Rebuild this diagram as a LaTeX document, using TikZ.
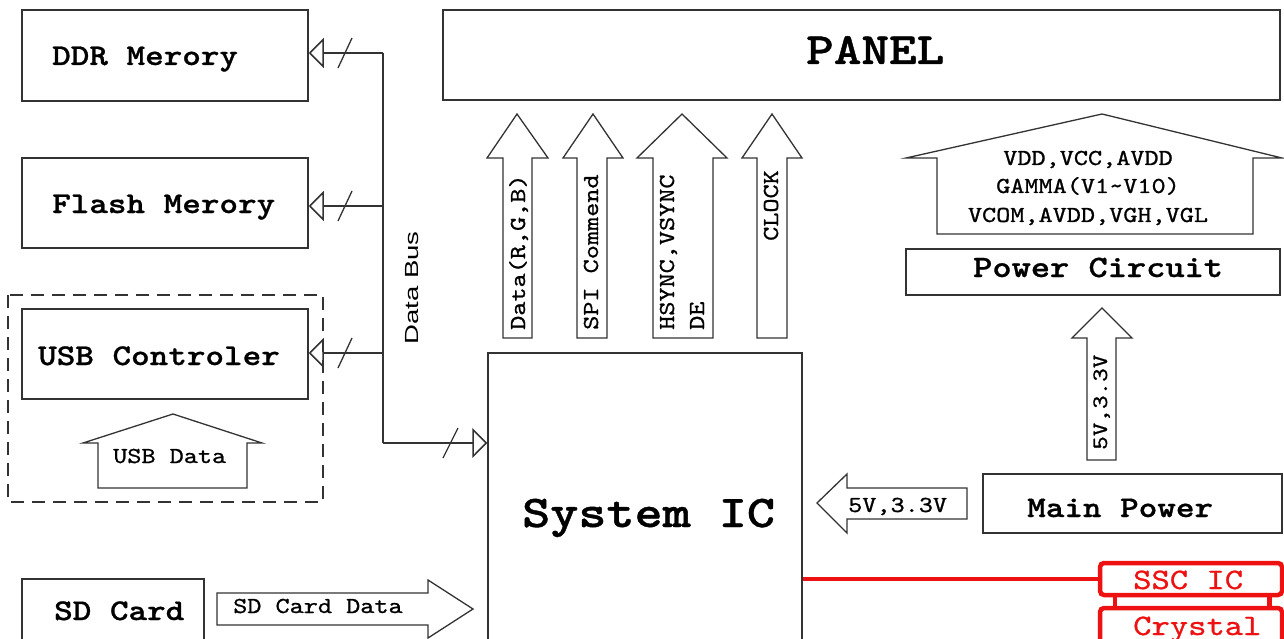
\documentclass[tikz,border=0pt]{standalone}
\usepackage{fontspec}
\usepackage{graphicx}
\setsansfont{Liberation Sans}
\newfontfamily\smono[FakeBold=0.8]{lmmono10-regular.otf}
\newfontfamily\bmono[FakeBold=0.8]{lmmonolt10-bold.otf}
\usetikzlibrary{arrows.meta}
\definecolor{lc}{HTML}{333333}
\definecolor{rc}{HTML}{EE1111}
\newcommand\fsz[1]{\fontsize{#1}{#1}\selectfont}
\newcommand\cw[1]{\scalebox{1}[0.85]{#1}}
\begin{document}
\begin{tikzpicture}[x=1pt,y=-1pt,
  box/.style={draw=lc,line width=1.5pt,inner sep=0pt},
  lbl/.style={font=\bmono\fsz{35.4},inner sep=0pt,anchor=base west},
  sml/.style={font=\smono\fsz{26.9},inner sep=0pt,anchor=base west},
  blk/.style={draw=lc,line width=1.3pt,fill=white},
  bus/.style={draw=lc,line width=1.5pt,-{Triangle[open,length=15pt,width=30pt,line width=1.5pt]}},
  busline/.style={draw=lc,line width=1.5pt},
  slash/.style={draw=lc,line width=1.3pt},
  redbox/.style={draw=rc,line width=4.5pt,rounded corners=4pt,inner sep=0pt},
  redtxt/.style={font=\smono\fsz{34.9},text=rc,inner sep=0pt,anchor=base west}]
\useasboundingbox (0,0) rectangle (1284,639);
\clip (0,0) rectangle (1284,639);
\fill[white] (0,0) rectangle (1284,639);

% memory boxes
\node[box,minimum width=286pt,minimum height=91pt] (ddr) at (165,55.5) {};
\node[lbl] (ddrt) at (52,65) {\cw{DDR Merory}};
\node[box,minimum width=286pt,minimum height=90pt] (flash) at (165,203) {};
\node[lbl] (flasht) at (52,213) {\cw{Flash Merory}};
\node[box,minimum width=286pt,minimum height=90pt] (usb) at (165,354) {};
\node[lbl] (usbt) at (38,365) {\cw{USB Controler}};
\draw[lc,line width=1.5pt,dash pattern=on 13pt off 8pt] (8,295) rectangle (323,502);

% USB data arrow
\draw[blk] (98,488) -- (98,443) -- (83,443) -- (173,414) -- (262,443) -- (247,443) -- (247,488) -- cycle;
\node[sml] (usbd) at (113,463) {\cw{USB Data}};

% SD card
\node[box,minimum width=182pt,minimum height=81pt] (sd) at (113,619.5) {};
\node[lbl] (sdt) at (54,620) {\cw{SD Card}};
\draw[blk] (217,593) -- (428,593) -- (428,580) -- (473,609) -- (428,638) -- (428,625) -- (217,625) -- cycle;
\node[sml] (sdd) at (233,613) {\cw{SD Card Data}};

% panel
\node[box,minimum width=837pt,minimum height=90pt] (panel) at (861.5,55) {};
\node[font=\bmono\fsz{52.6},inner sep=0pt,anchor=base west] (panelt) at (806,64) {\cw{PANEL}};

% system IC
\node[box,minimum width=314pt,minimum height=307pt] (sys) at (645,506.5) {};
\node[font=\bmono\fsz{53.5},inner sep=0pt,anchor=base west] (syst) at (522,527) {\cw{System IC}};

% bus
\coordinate (j1) at (383,53);
\coordinate (j2) at (383,206);
\coordinate (j3) at (383,353);
\coordinate (j4) at (383,443);
\draw[busline] (j1) -- (j4);
\draw[bus] (j1) -- (j1 -| ddr.east);
\draw[bus] (j2) -- (j2 -| flash.east);
\draw[bus] (j3) -- (j3 -| usb.east);
\draw[bus] (j4) -- (j4 -| sys.west);
\draw[slash] ([shift={(-45,15)}]j1) -- ([shift={(-31,-15)}]j1);
\draw[slash] ([shift={(-45,15)}]j2) -- ([shift={(-31,-15)}]j2);
\draw[slash] ([shift={(-45,15)}]j3) -- ([shift={(-31,-15)}]j3);
\draw[slash] ([shift={(60,15)}]j4) -- ([shift={(75,-15)}]j4);
\node[font=\sffamily\fsz{19},rotate=90,anchor=base west,inner sep=0pt] (dbus) at (418,345) {\scalebox{1.45}[1]{Data Bus}};

% up arrows to panel
\draw[blk] (503,338) -- (503,158) -- (487,158) -- (517,114) -- (548,158) -- (532,158) -- (532,338) -- cycle;
\draw[blk] (577,338) -- (577,158) -- (563,158) -- (593,114) -- (623,158) -- (607,158) -- (607,338) -- cycle;
\draw[blk] (653,338) -- (653,158) -- (637,158) -- (682,114) -- (727,158) -- (713,158) -- (713,338) -- cycle;
\draw[blk] (757,338) -- (757,158) -- (742,158) -- (772,114) -- (802,158) -- (787,158) -- (787,338) -- cycle;
\node[sml,rotate=90] (a1) at (525,330) {\cw{Data(R,G,B)}};
\node[sml,rotate=90] (a2) at (598,330) {\cw{SPI Commend}};
\node[sml,rotate=90] (a3) at (674,330) {\cw{HSYNC,VSYNC}};
\node[sml,rotate=90] (a4) at (704,330) {\cw{DE}};
\node[sml,rotate=90,anchor=base east] (a5) at (778,170) {\cw{CLOCK}};

% power
\draw[blk] (937,234) -- (937,158) -- (906,158) -- (1102,114) -- (1282,158) -- (1253,158) -- (1253,234) -- cycle;
\node[sml,anchor=base] (p1) at (1088,165) {\cw{VDD,VCC,AVDD}};
\node[sml,anchor=base] (p2) at (1088,193) {\cw{GAMMA(V1\char`\~V10)}};
\node[sml,anchor=base] (p3) at (1088,222) {\cw{VCOM,AVDD,VGH,VGL}};
\node[box,minimum width=374pt,minimum height=46pt] (pc) at (1093,272) {};
\node[lbl,font=\bmono\fsz{36.6}] (pct) at (973,277) {\cw{Power Circuit}};

\draw[blk] (1087,460) -- (1087,338) -- (1072,338) -- (1102,308) -- (1132,338) -- (1116,338) -- (1116,460) -- cycle;
\node[sml,rotate=90,font=\smono\fsz{25.9}] (v1) at (1107,450) {\cw{5V,3.3V}};

\node[box,minimum width=299pt,minimum height=59pt] (mp) at (1132.5,503.5) {};
\node[lbl] (mpt) at (1027,517) {\cw{Main Power}};
\draw[blk] (967,488) -- (847,488) -- (847,474) -- (817,503) -- (847,533) -- (847,519) -- (967,519) -- cycle;
\node[sml] (v2) at (848,512) {\cw{5V,3.3V}};

% SSC / crystal
\node[redbox,minimum width=182pt,minimum height=32pt] (ssc) at (1191,579) {};
\node[redtxt] (ssct) at (1133,589) {\cw{SSC IC}};
\node[redbox,minimum width=182pt,minimum height=52pt] (crys) at (1191,634) {};
\node[redtxt] (cryst) at (1133,635) {\cw{Crystal}};
\draw[rc,line width=4.5pt] ([xshift=17pt]ssc.south west) -- ([xshift=17pt]crys.north west);
\draw[rc,line width=4.5pt] ([xshift=-15pt]ssc.south east) -- ([xshift=-15pt]crys.north east);
\draw[rc,line width=4.5pt] (sys.east |- ssc.west) -- (ssc.west);
\end{tikzpicture}
\end{document}
